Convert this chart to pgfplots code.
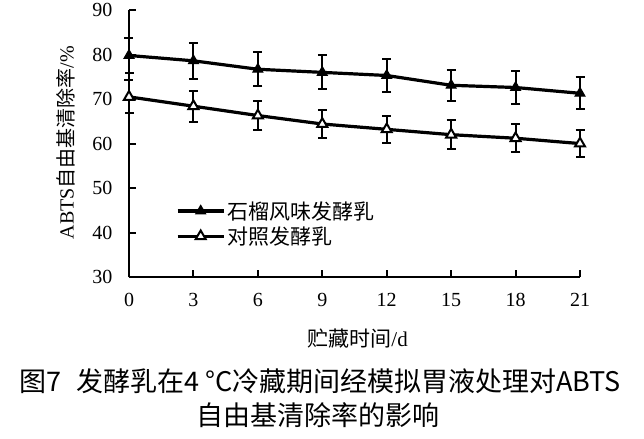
\documentclass[border=0pt]{standalone}
\usepackage{fontspec}
\setmainfont{Liberation Serif}
\newfontfamily\cjk{Noto Sans CJK SC}
\usepackage{pgfplots}
\pgfplotsset{compat=1.18}
\begin{document}
\begin{tikzpicture}
\begin{axis}[
  scale only axis,
  width=451pt, height=267pt,
  xmin=0, xmax=21, ymin=30, ymax=90,
  xtick={0,3,...,21}, ytick={30,40,...,90},
  axis x line*=bottom, axis y line*=left,
  hide obscured x ticks=false, hide obscured y ticks=false,
  x axis line style={-, line width=2pt}, y axis line style={-, line width=2pt},
  tick align=inside, major tick length=7pt,
  tick style={line width=2pt, black},
  /pgf/number format/assume math mode=true,
  tick label style={font=\fontsize{20}{24}\selectfont},
  xticklabel style={yshift=-13pt},
  yticklabel style={xshift=-13pt},
  clip=false,
  xlabel={{\cjk 贮藏时间}/d},
  xlabel style={at={(axis description cs:0.507,0)}, anchor=center, yshift=-61pt, font=\fontsize{21}{24}\selectfont},
  ylabel={ABTS{\cjk 自由基清除率}/\%},
  ylabel style={at={(axis description cs:-0.1397,0.504)}, anchor=center, font=\fontsize{20}{24}\selectfont},
  legend style={draw=none, fill=none, at={(axis description cs:0.104,0.2)}, anchor=west, inner sep=0pt,
    font=\cjk\fontsize{21}{27}\selectfont, row sep=2pt},
  legend cell align=left,
  legend image code/.code={\draw[mark repeat=2,mark phase=2,#1] plot coordinates {(0pt,0pt) (23pt,0pt) (46pt,0pt)};},
]
\addplot[black, line width=3.2pt, mark=triangle*, mark size=5.8pt, mark options={fill=black, line width=1pt},
  error bars/.cd, y dir=both, y explicit,
  error bar style={line width=2pt, black},
  error mark options={rotate=90, mark size=4.5pt, line width=2pt, black}]
  coordinates {
  (0,79.8) +- (0,4.0)
  (3,78.6) +- (0,4.0)
  (6,76.7) +- (0,3.8)
  (9,76.0) +- (0,3.8)
  (12,75.3) +- (0,3.8)
  (15,73.1) +- (0,3.5)
  (18,72.6) +- (0,3.6)
  (21,71.3) +- (0,3.6)
  };
\addlegendentry{石榴风味发酵乳}
\addplot[black, line width=3.2pt, mark=triangle*, mark size=5.8pt, mark options={fill=white, draw=black, line width=2pt},
  error bars/.cd, y dir=both, y explicit,
  error bar style={line width=2pt, black},
  error mark options={rotate=90, mark size=4.5pt, line width=2pt, black}]
  coordinates {
  (0,70.5) +- (0,3.7)
  (3,68.4) +- (0,3.5)
  (6,66.3) +- (0,3.3)
  (9,64.4) +- (0,3.2)
  (12,63.2) +- (0,3.1)
  (15,62.0) +- (0,3.3)
  (18,61.2) +- (0,3.2)
  (21,60.0) +- (0,3.0)
  };
\addlegendentry{对照发酵乳}
\end{axis}
\node[font=\cjk\fontsize{27}{30}\selectfont, anchor=center] at (191pt,-104pt) {图7\hspace{0.55em}发酵乳在4 °C冷藏期间经模拟胃液处理对ABTS};
\node[font=\cjk\fontsize{27}{30}\selectfont, anchor=center] at (189pt,-138pt) {自由基清除率的影响};
\path[use as bounding box] (-129pt,-161pt) rectangle (515pt,277pt);
\end{tikzpicture}
\end{document}
